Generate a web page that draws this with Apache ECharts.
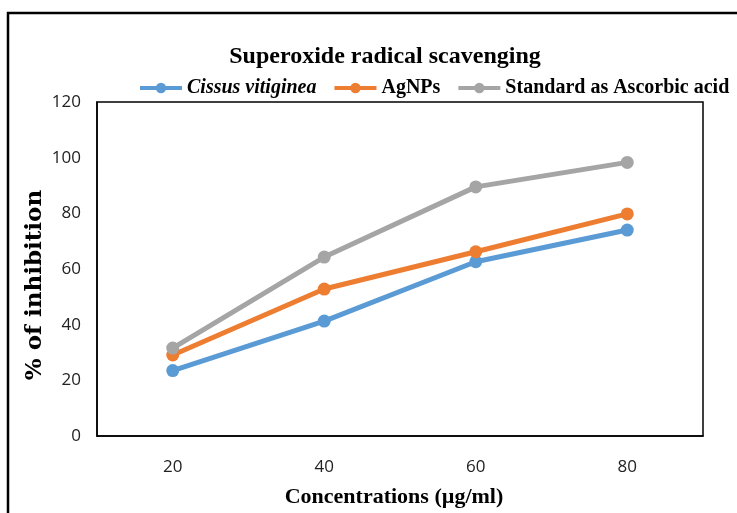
<!DOCTYPE html>
<html>
<head>
<meta charset="utf-8">
<script src="https://cdn.jsdelivr.net/npm/echarts@6/dist/echarts.min.js"></script>
<style>
  html, body { margin: 0; padding: 0; background: #fff; }
  #chart { width: 737px; height: 513px; }
</style>
</head>
<body>
<div id="chart"></div>
<script>
// data
const concentrations = ["20", "40", "60", "80"];
const cissus = [23.5, 41.3, 62.6, 74.0];
const agnps = [29.1, 52.8, 66.2, 79.8];
const ascorbic = [31.6, 64.3, 89.5, 98.3];

const serif = "Liberation Serif";

const chart = echarts.init(document.getElementById("chart"));

function line(name, color, data) {
    return {
        name: name,
        type: "line",
        data: data,
        symbol: "circle",
        symbolSize: 13,
        lineStyle: { color: color, width: 5 },
        itemStyle: { color: color },
        z: 3,
    };
}

chart.setOption({
    animation: false,
    title: {
        text: "Superoxide radical scavenging",
        left: 380,
        textAlign: "center",
        top: 40,
        textStyle: { fontFamily: serif, fontWeight: "bold", fontSize: 24, color: "#000" },
    },
    legend: {
        top: 73,
        left: 133,
        itemGap: 16,
        itemWidth: 42,
        itemHeight: 13,
        lineStyle: { width: 4 },
        textStyle: { fontFamily: serif, fontWeight: "bold", fontSize: 20, color: "#000" },
        data: [
            { name: "Cissus vitiginea", textStyle: { fontStyle: "italic" } },
            { name: "AgNPs" },
            { name: "Standard as Ascorbic acid" },
        ],
    },
    grid: {
        left: 97,
        top: 102,
        right: 34,
        bottom: 77,
        show: true,
        borderColor: "#000",
        borderWidth: 1.5,
    },
    xAxis: {
        type: "category",
        data: concentrations,
        name: "Concentrations (µg/ml)",
        nameLocation: "middle",
        nameGap: 50,
        nameTextStyle: { fontFamily: serif, fontWeight: "bold", fontSize: 22, color: "#000", padding: [0, 12, 0, 0] },
        axisLine: { lineStyle: { color: "#000", width: 1.5 } },
        axisTick: { show: false },
        axisLabel: { margin: 23, fontFamily: "Open Sans", fontSize: 17, color: "#222" },
    },
    yAxis: {
        type: "value",
        min: 0,
        max: 120,
        interval: 20,
        name: "% of inhibition",
        nameLocation: "middle",
        nameGap: 50,
        nameMoveOverlap: false,
        nameTextStyle: { fontFamily: "DejaVu Serif", fontWeight: "bold", fontSize: 23, color: "#000", padding: [0, 32, 0, 0] },
        axisLine: { show: true, lineStyle: { color: "#000", width: 1.5 } },
        axisTick: { show: false },
        splitLine: { show: false },
        axisLabel: { margin: 16, fontFamily: "Open Sans", fontSize: 17, color: "#222" },
    },
    series: [
        line("Cissus vitiginea", "#5b9bd5", cissus),
        line("AgNPs", "#ed7d31", agnps),
        line("Standard as Ascorbic acid", "#a5a5a5", ascorbic),
    ],
    graphic: [
        {
            type: "rect",
            shape: { x: 8, y: 13, width: 800, height: 600 },
            style: { fill: "none", stroke: "#000", lineWidth: 2.5 },
            silent: true,
        },
    ],
});
</script>
</body>
</html>
